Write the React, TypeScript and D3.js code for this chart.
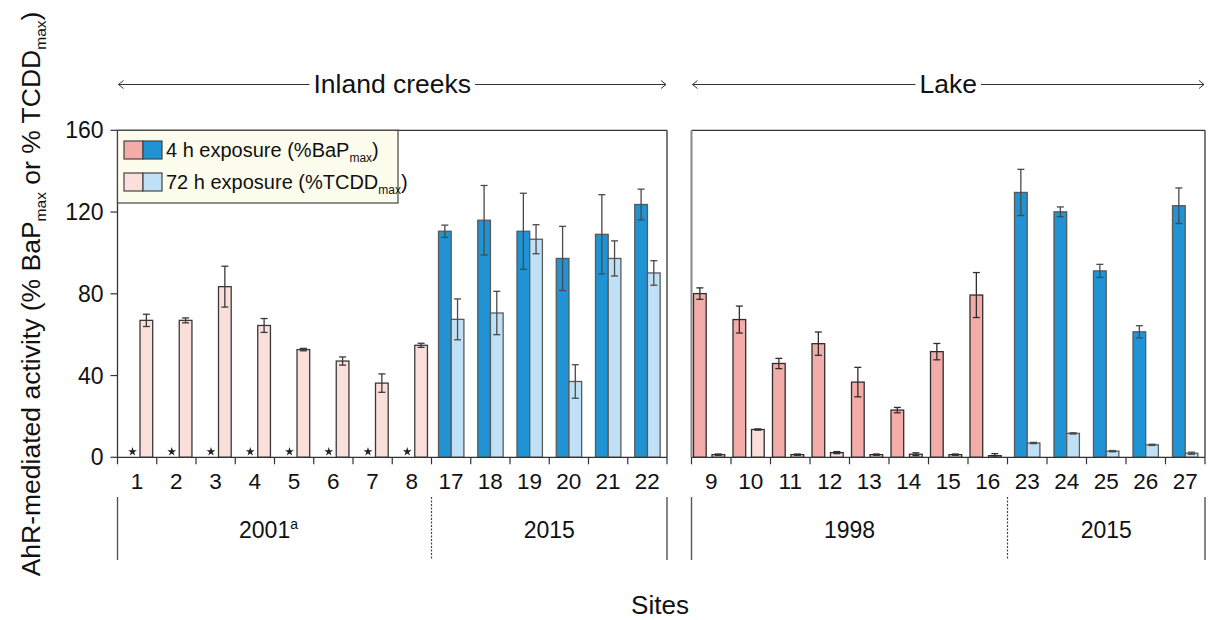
import React, { useRef, useEffect } from 'react';
import * as d3 from 'd3';

// ---------- data ----------
const leftSites = ['1', '2', '3', '4', '5', '6', '7', '8', '17', '18', '19', '20', '21', '22'];
const leftEra = ['2001', '2001', '2001', '2001', '2001', '2001', '2001', '2001', '2015', '2015', '2015', '2015', '2015', '2015'];
const left4h: (number | null)[] = [null, null, null, null, null, null, null, null, 110.6, 116.0, 110.6, 97.3, 109.1, 123.7];
const left4hErr: (number | null)[] = [null, null, null, null, null, null, null, null, 3, 17, 18.6, 15.7, 19.4, 7.5];
const left72h = [67, 67, 83.5, 64.5, 52.7, 47.1, 36.3, 54.8, 67.5, 70.6, 106.7, 37.1, 97.3, 90.2];
const left72hErr = [3, 1.2, 10, 3.4, 0.6, 2, 4.5, 1, 10, 10.6, 7.1, 8.2, 8.6, 6];

const rightSites = ['9', '10', '11', '12', '13', '14', '15', '16', '23', '24', '25', '26', '27'];
const rightEra = ['1998', '1998', '1998', '1998', '1998', '1998', '1998', '1998', '2015', '2015', '2015', '2015', '2015'];
const right4h: (number | null)[] = [80.1, 67.4, 45.9, 55.6, 36.8, 23.1, 51.7, 79.4, 129.6, 120.1, 91.2, 61.4, 123.1];
const right4hErr: (number | null)[] = [2.8, 6.6, 2.5, 5.7, 7.2, 1.3, 4, 11, 11.3, 2.4, 3.2, 3, 8.7];
const right72h = [1.3, 13.6, 1.3, 2.3, 1.3, 1.5, 1.3, 0.8, 7.0, 11.7, 3.0, 6.1, 2.0];
const right72hErr = [0.3, 0.3, 0.3, 0.5, 0.3, 0.7, 0.3, 1.0, 0.3, 0.3, 0.3, 0.3, 0.5];

const eraLabels: Record<string, { text: string; sup?: string }> = {
  '2001': { text: '2001', sup: 'a' },
  '2015': { text: '2015' },
  '1998': { text: '1998' },
};
const yTicks = [0, 40, 80, 120, 160];
const panelTitles = ['Inland creeks', 'Lake'];

// ---------- styles ----------
const FONT = "'Liberation Sans', Arial, Helvetica, sans-serif";
const eraStyle: Record<string, { dark: string; light: string; stroke: string; lightStroke: string; err: string; offDark: number; offLight: number }> = {
  '2001': { dark: '#f3aca7', light: '#fbdfdb', stroke: '#3a3a3a', lightStroke: '#3a3a3a', err: '#3a3a3a', offDark: 9.8, offLight: 22.5 },
  '1998': { dark: '#f3aca7', light: '#fbdfdb', stroke: '#2e2e2e', lightStroke: '#2e2e2e', err: '#2e2e2e', offDark: 2, offLight: 20.5 },
  '2015': { dark: '#1f93d3', light: '#c0e0f5', stroke: '#5a5a5a', lightStroke: '#5a5a5a', err: '#4a4a4a', offDark: 7, offLight: 19.7 },
};
const BAR_W = 12.7;

export default function App() {
  const ref = useRef<SVGSVGElement>(null);

  useEffect(() => {
    const svg = d3.select(ref.current);
    svg.selectAll('*').remove();

    const y = d3.scaleLinear().domain([0, 160]).range([457.3, 130.3]);
    const xL = d3.scaleBand<string>().domain(leftSites).range([117.5, 667]);
    const xR = d3.scaleBand<string>().domain(rightSites).range([691.5, 1205]);

    const panels = [
      { x: xL, sites: leftSites, era: leftEra, v4: left4h, e4: left4hErr, v72: left72h, e72: left72hErr, title: panelTitles[0], leftColor: '#333', leftW: 1.3 },
      { x: xR, sites: rightSites, era: rightEra, v4: right4h, e4: right4hErr, v72: right72h, e72: right72hErr, title: panelTitles[1], leftColor: '#888', leftW: 2 },
    ];

    panels.forEach((p, pi) => {
      const g = svg.append('g');
      const [x0, x1] = p.x.range();
      const bw = p.x.bandwidth();

      // bars
      p.sites.forEach((s, i) => {
        const st = eraStyle[p.era[i]];
        const bx = p.x(s)!;
        const v4 = p.v4[i];
        if (v4 != null) {
          g.append('rect')
            .attr('x', bx + st.offDark).attr('y', y(v4))
            .attr('width', BAR_W).attr('height', y(0) - y(v4))
            .attr('fill', st.dark).attr('stroke', st.stroke).attr('stroke-width', 1.3);
        } else {
          g.append('path')
            .attr('d', d3.symbol(d3.symbolStar).size(24)()!)
            .attr('transform', `translate(${bx + 15},${y(0) - 5.6})`)
            .attr('fill', '#222');
        }
        const v72 = p.v72[i];
        g.append('rect')
          .attr('x', bx + st.offLight).attr('y', y(v72))
          .attr('width', BAR_W).attr('height', y(0) - y(v72))
          .attr('fill', st.light).attr('stroke', st.lightStroke).attr('stroke-width', 1.3);
      });

      // error bars
      const errBar = (cx: number, v: number, e: number, color: string) => {
        const top = y(v + e), bot = y(Math.max(0, v - e));
        g.append('line').attr('x1', cx).attr('x2', cx).attr('y1', top).attr('y2', bot).attr('stroke', color).attr('stroke-width', 1.3);
        [top, bot].forEach((yy) =>
          g.append('line').attr('x1', cx - 3.5).attr('x2', cx + 3.5).attr('y1', yy).attr('y2', yy).attr('stroke', color).attr('stroke-width', 1.3)
        );
      };
      p.sites.forEach((s, i) => {
        const st = eraStyle[p.era[i]];
        const bx = p.x(s)!;
        const v4 = p.v4[i], e4 = p.e4[i];
        if (v4 != null && e4 != null) errBar(bx + st.offDark + BAR_W / 2, v4, e4, st.err);
        errBar(bx + st.offLight + BAR_W / 2, p.v72[i], p.e72[i], st.err);
      });

      // frame
      g.append('line').attr('x1', x0).attr('x2', x1).attr('y1', y(0)).attr('y2', y(0)).attr('stroke', '#333').attr('stroke-width', 1.3);
      g.append('line').attr('x1', x0).attr('x2', x1).attr('y1', y(160)).attr('y2', y(160)).attr('stroke', '#333').attr('stroke-width', 1.3);
      g.append('line').attr('x1', x1).attr('x2', x1).attr('y1', y(160)).attr('y2', y(0)).attr('stroke', '#333').attr('stroke-width', 1.3);
      g.append('line').attr('x1', x0).attr('x2', x0).attr('y1', y(160)).attr('y2', y(0)).attr('stroke', p.leftColor).attr('stroke-width', p.leftW);

      // x ticks at category boundaries
      const bounds = p.sites.map((s) => p.x(s)!).concat([x1]);
      bounds.forEach((bxx) => {
        g.append('line').attr('x1', bxx).attr('x2', bxx).attr('y1', y(0)).attr('y2', y(0) + 7).attr('stroke', '#333').attr('stroke-width', 1.2);
      });
      // x labels
      p.sites.forEach((s) => {
        g.append('text').attr('x', p.x(s)! + bw / 2).attr('y', 488.5)
          .attr('text-anchor', 'middle').attr('font-size', 22.5).attr('font-family', FONT).attr('fill', '#111').text(s);
      });

      // era groups
      const runs: { era: string; start: number; end: number }[] = [];
      p.era.forEach((e, i) => {
        if (runs.length && runs[runs.length - 1].era === e) runs[runs.length - 1].end = i;
        else runs.push({ era: e, start: i, end: i });
      });
      runs.forEach((r, ri) => {
        const rs = p.x(p.sites[r.start])!;
        const re = p.x(p.sites[r.end])! + bw;
        const lineAt = (xx: number, dashed: boolean) =>
          g.append('line').attr('x1', xx).attr('x2', xx).attr('y1', 497).attr('y2', 560)
            .attr('stroke', dashed ? '#444' : '#555').attr('stroke-width', dashed ? 1.2 : 1.4)
            .attr('stroke-dasharray', dashed ? '2,1.5' : null);
        if (ri === 0) lineAt(rs, false);
        lineAt(re, ri !== runs.length - 1);
        const lab = eraLabels[r.era];
        const t = g.append('text').attr('x', (rs + re) / 2 + (lab.sup ? -6 : 0)).attr('y', 538)
          .attr('text-anchor', 'middle').attr('font-size', 23).attr('font-family', FONT).attr('fill', '#111');
        t.append('tspan').text(lab.text);
        if (lab.sup) t.append('tspan').attr('font-size', 14).attr('dy', -9).text(lab.sup);
      });

      // header with arrows
      const cx = (x0 + x1) / 2;
      const ht = g.append('text').attr('x', cx).attr('y', 93).attr('text-anchor', 'middle')
        .attr('font-size', 26.5).attr('font-family', FONT).attr('fill', '#111').text(p.title);
      const tw = (ht.node() as SVGTextElement).getComputedTextLength();
      const hy = 84.5;
      const la = x0 + 1, rb = x1 - 1;
      g.append('line').attr('x1', la).attr('x2', cx - tw / 2 - 4).attr('y1', hy).attr('y2', hy).attr('stroke', '#333').attr('stroke-width', 1);
      g.append('line').attr('x1', cx + tw / 2 + 4).attr('x2', rb).attr('y1', hy).attr('y2', hy).attr('stroke', '#333').attr('stroke-width', 1);
      g.append('path').attr('d', `M${la + 5},${hy - 4}L${la},${hy}L${la + 5},${hy + 4}`).attr('fill', 'none').attr('stroke', '#333').attr('stroke-width', 1);
      g.append('path').attr('d', `M${rb - 5},${hy - 4}L${rb},${hy}L${rb - 5},${hy + 4}`).attr('fill', 'none').attr('stroke', '#333').attr('stroke-width', 1);

      if (pi === 0) {
        // y ticks
        yTicks.forEach((t) => {
          g.append('line').attr('x1', x0 - 7).attr('x2', x0).attr('y1', y(t)).attr('y2', y(t)).attr('stroke', '#333').attr('stroke-width', 1.2);
          g.append('text').attr('x', x0 - 14).attr('y', y(t) + 8).attr('text-anchor', 'end')
            .attr('font-size', 23).attr('font-family', FONT).attr('fill', '#111').text(String(t));
        });
        // legend
        g.append('rect').attr('x', x0).attr('y', y(160)).attr('width', 398 - x0).attr('height', 203 - y(160))
          .attr('fill', '#fdfdee').attr('stroke', '#444').attr('stroke-width', 1.2);
        const rows = [
          { a: eraStyle['1998'].dark, b: eraStyle['2015'].dark, main: '4 h exposure (%BaP', sub: 'max', y0: 141 },
          { a: eraStyle['1998'].light, b: eraStyle['2015'].light, main: '72 h exposure (%TCDD', sub: 'max', y0: 173 },
        ];
        rows.forEach((r) => {
          g.append('rect').attr('x', 124).attr('y', r.y0).attr('width', 19).attr('height', 18).attr('fill', r.a).attr('stroke', '#444').attr('stroke-width', 1.2);
          g.append('rect').attr('x', 143).attr('y', r.y0).attr('width', 19).attr('height', 18).attr('fill', r.b).attr('stroke', '#444').attr('stroke-width', 1.2);
          const t = g.append('text').attr('x', 166).attr('y', r.y0 + 16).attr('font-size', 20).attr('font-family', FONT).attr('fill', '#111');
          t.append('tspan').text(r.main);
          t.append('tspan').attr('font-size', 12).attr('dy', 5).text(r.sub);
          t.append('tspan').attr('dy', -5).text(')');
        });
      }
    });

    // y-axis title
    const yt = svg.append('text').attr('transform', 'translate(40,294) rotate(-90)').attr('text-anchor', 'middle')
      .attr('font-size', 26.5).attr('font-family', FONT).attr('fill', '#111');
    yt.append('tspan').text('AhR-mediated activity (% BaP');
    yt.append('tspan').attr('font-size', 15.5).attr('dy', 6).text('max');
    yt.append('tspan').attr('dy', -6).text(' or % TCDD');
    yt.append('tspan').attr('font-size', 15.5).attr('dy', 6).text('max');
    yt.append('tspan').attr('dy', -6).text(')');

    // x-axis title
    svg.append('text').attr('x', 660).attr('y', 614).attr('text-anchor', 'middle')
      .attr('font-size', 26).attr('font-family', FONT).attr('fill', '#111').text('Sites');
  }, []);

  return (
    <svg
      ref={ref}
      width={1209}
      height={620}
      style={{ position: 'absolute', left: 0, top: 0, background: '#fff' }}
    />
  );
}
